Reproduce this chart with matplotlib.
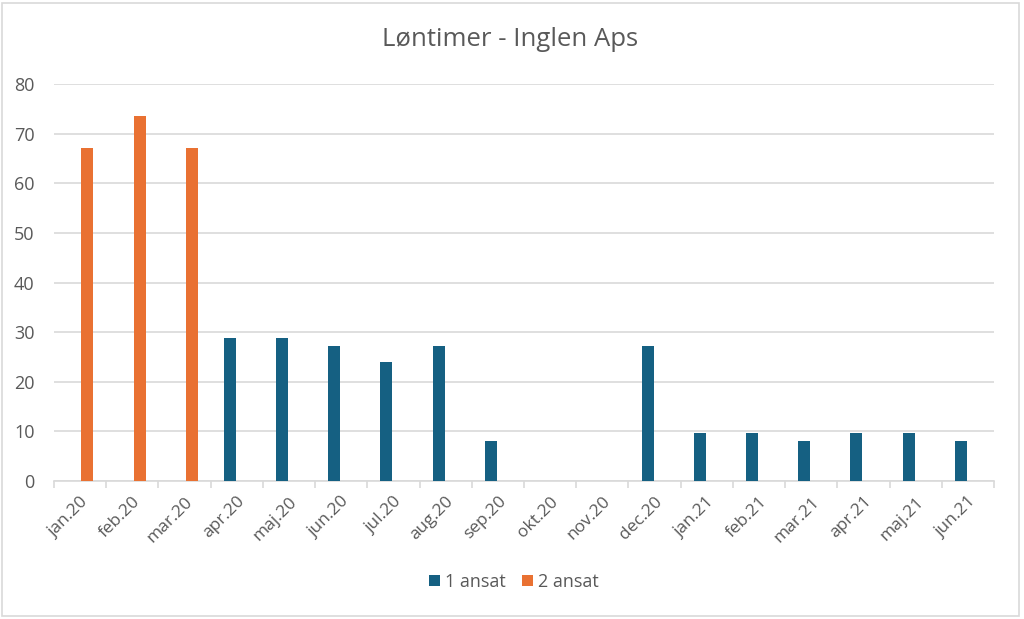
import matplotlib
matplotlib.use('Agg')
import numpy as np
import matplotlib.pyplot as plt
from matplotlib.patches import Rectangle

## chart data
months = ['jan.20', 'feb.20', 'mar.20', 'apr.20', 'maj.20', 'jun.20', 'jul.20', 'aug.20', 'sep.20',
          'okt.20', 'nov.20', 'dec.20', 'jan.21', 'feb.21', 'mar.21', 'apr.21', 'maj.21', 'jun.21']
ansat_1 = [0, 0, 0, 28.8, 28.8, 27.2, 24.0, 27.2, 8.0, 0, 0, 27.2, 9.6, 9.6, 8.0, 9.6, 9.6, 8.0]
ansat_2 = [67.2, 73.6, 67.2, 0, 0, 0, 0, 0, 0, 0, 0, 0, 0, 0, 0, 0, 0, 0]
y_ticks = [0, 10, 20, 30, 40, 50, 60, 70, 80]

BLUE = '#156082'
ORANGE = '#E97132'
TEXT = '#595959'
GRID = '#D9D9D9'

plt.rcParams['font.family'] = ['Open Sans', 'DejaVu Sans']

fig = plt.figure(figsize=(10.24, 6.19), dpi=100)
ax = fig.add_axes([54/1024, 1-481/619, (994-54)/1024, (481-84)/619])

## clustered columns: series 1 left slot, series 2 right slot
x = np.arange(len(months))
bw = 0.23
ax.bar(x - 0.135, ansat_1, width=bw, color=BLUE, label='1 ansat', zorder=3)
ax.bar(x + 0.14, ansat_2, width=bw, color=ORANGE, label='2 ansat', zorder=3)

ax.set_xlim(-0.5, len(months)-0.5)
ax.set_ylim(0, 80)
ax.set_yticks(y_ticks)
ax.yaxis.grid(True, color=GRID, linewidth=1.2, zorder=0)
ax.tick_params(axis='y', length=0, labelsize=13, labelcolor=TEXT, pad=14)

ax.set_xticks(x)
ax.set_xticklabels(months, rotation=45, ha='right', rotation_mode='anchor')
ax.tick_params(axis='x', which='major', length=0, labelsize=12.5, labelcolor=TEXT, pad=9)
ax.set_xticks(np.arange(-0.5, len(months)), minor=True)
ax.tick_params(axis='x', which='minor', length=5, color=GRID, width=1.2)

for s in ['top', 'right', 'left']:
    ax.spines[s].set_visible(False)
ax.spines['bottom'].set_color(GRID)
ax.spines['bottom'].set_linewidth(1.2)

fig.text(510/1024, 1-40/619, 'Løntimer - Inglen Aps', ha='center', va='center',
         fontsize=18.5, color=TEXT)

fig.legend(loc='center', bbox_to_anchor=(514/1024, 1-582/619), ncol=2, frameon=False,
           fontsize=13, labelcolor=TEXT, handlelength=0.6, handleheight=0.6,
           handletextpad=0.3, columnspacing=0.9)

## light border around the whole chart area
fig.patches.append(Rectangle((2/1024, 3/619), 1017/1024, 613/619, transform=fig.transFigure,
                             fill=False, edgecolor=GRID, linewidth=1.2))

plt.savefig('out.png', dpi=100)
